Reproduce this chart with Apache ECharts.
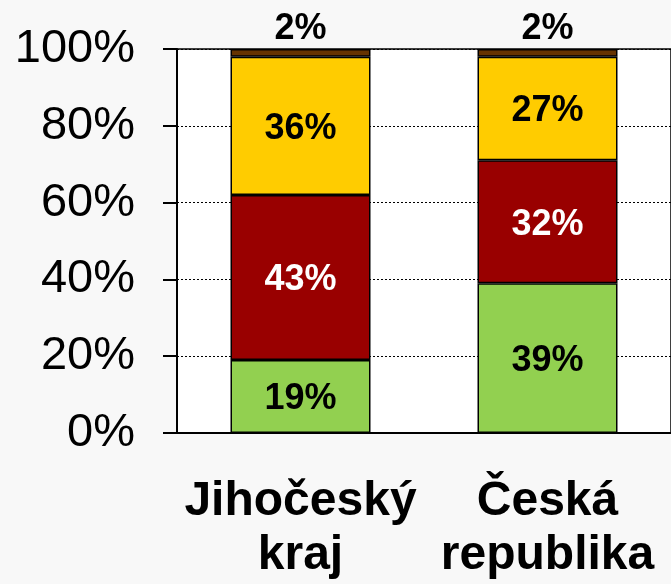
<!DOCTYPE html>
<html>
<head>
<meta charset="utf-8">
<script src="https://cdn.jsdelivr.net/npm/echarts@6/dist/echarts.min.js"></script>
<style>
  html, body { margin: 0; padding: 0; background: #f8f8f8; }
  #chart { width: 671px; height: 584px; }
</style>
</head>
<body>
<div id="chart"></div>
<script>
"use strict";
// kategorie a hodnoty (v %)
var categories = ['Jihočeský\nkraj', 'Česká\nrepublika'];
var greenVals = [19, 39];
var redVals = [43, 32];
var yellowVals = [36, 27];
var brownVals = [2, 2];

var FONT = '"Liberation Sans", Arial, sans-serif';

function seg(name, data, color, labelColor, pos) {
    return {
        name: name,
        type: 'bar',
        stack: 'total',
        barWidth: 140,
        data: data,
        itemStyle: { color: color, borderColor: '#000', borderWidth: 1.5 },
        label: {
            show: true,
            position: pos || 'inside',
            distance: 2,
            offset: pos ? [0, 0] : [0, 3],
            formatter: '{c}%',
            color: labelColor,
            fontFamily: FONT,
            fontWeight: 'bold',
            fontSize: 36
        }
    };
}

var myChart = echarts.init(document.getElementById('chart'));
var option = {
    backgroundColor: '#f8f8f8',
    animation: false,
    grid: {
        left: 177, right: -2, top: 49, bottom: 151,
        show: true, backgroundColor: '#fff', borderColor: '#000', borderWidth: 1.5
    },
    xAxis: {
        type: 'category',
        data: categories,
        axisLine: { lineStyle: { color: '#000', width: 2 } },
        axisTick: { length: 15, lineStyle: { color: '#000', width: 2 } },
        axisLabel: {
            interval: 0, hideOverlap: false,
            color: '#000', fontFamily: FONT, fontWeight: 'bold',
            fontSize: 48, lineHeight: 54, margin: 42
        }
    },
    yAxis: {
        type: 'value',
        min: 0, max: 100, interval: 20,
        axisLine: { show: true, lineStyle: { color: '#000', width: 2 } },
        axisTick: { show: true, length: 14, lineStyle: { color: '#000', width: 2 } },
        axisLabel: {
            formatter: '{value}%', color: '#000', fontFamily: FONT,
            fontSize: 47, margin: 42
        },
        splitLine: { lineStyle: { color: '#000', width: 1, type: [2, 2] } }
    },
    series: [
        seg('zelená', greenVals, '#92D050', '#000'),
        seg('červená', redVals, '#990000', '#fff'),
        seg('žlutá', yellowVals, '#FFCC00', '#000'),
        seg('hnědá', brownVals, '#663300', '#000', 'top')
    ]
};
myChart.setOption(option);
</script>
</body>
</html>
